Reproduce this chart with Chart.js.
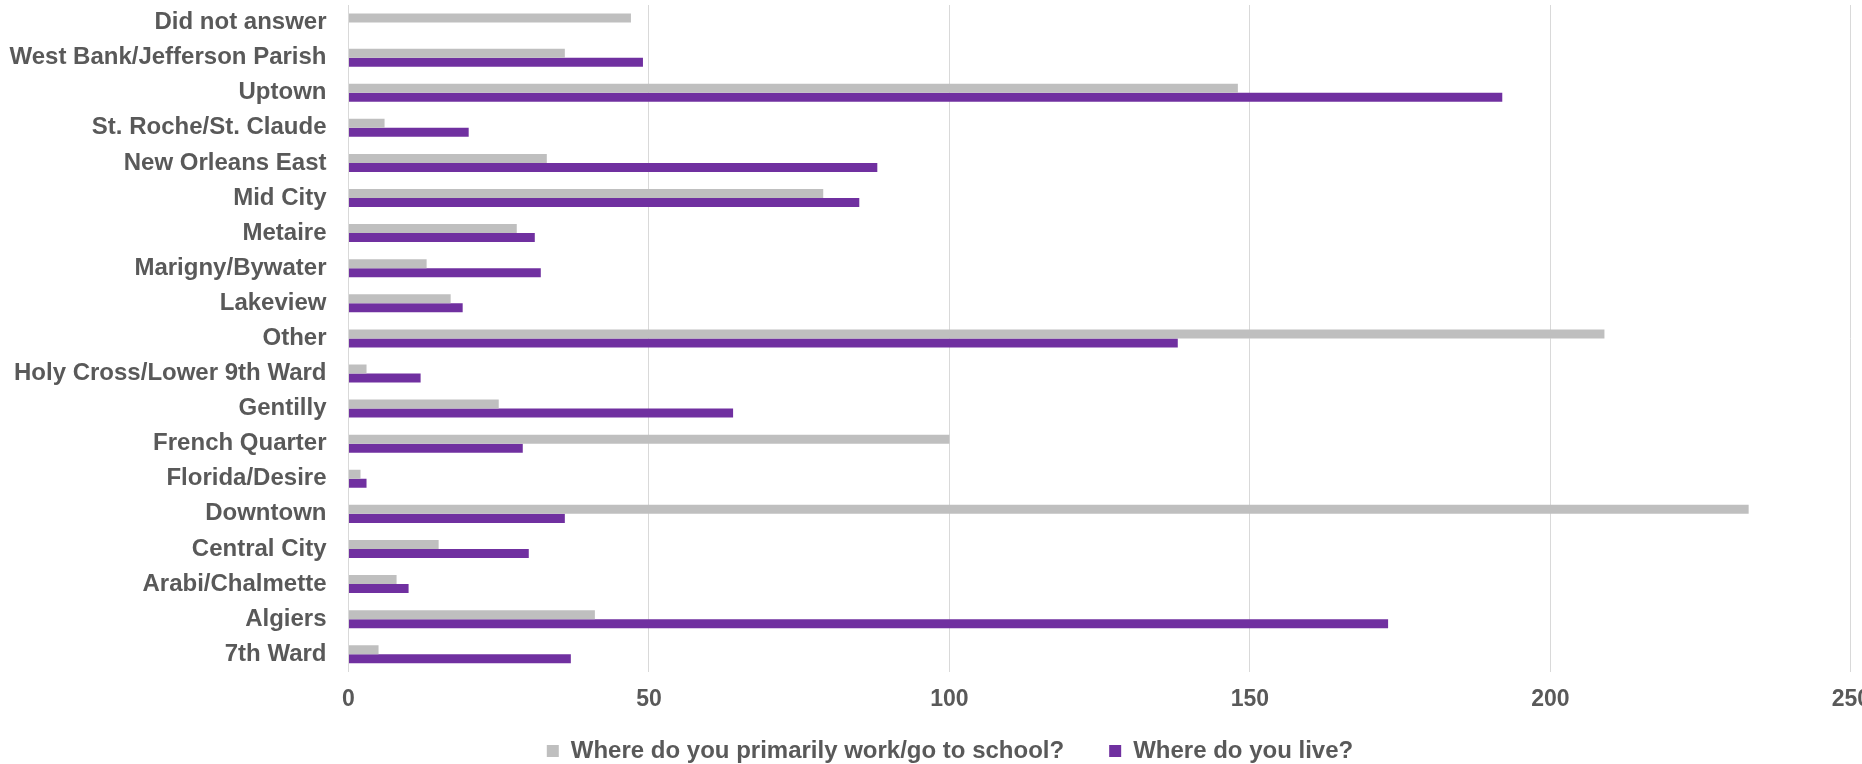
<!DOCTYPE html>
<html>
<head>
<meta charset="utf-8">
<script src="https://cdn.jsdelivr.net/npm/chart.js@4/dist/chart.umd.min.js"></script>
<style>
  html, body { margin: 0; padding: 0; background: #ffffff; overflow: hidden; }
  #wrap { width: 1862px; height: 764px; overflow: hidden; position: relative; }
  canvas { display: block; }
</style>
</head>
<body>
<div id="wrap"><canvas id="c" width="1870" height="806" style="width:1870px;height:806px"></canvas></div>
<script>
const categories = [
  'Did not answer', 'West Bank/Jefferson Parish', 'Uptown', 'St. Roche/St. Claude',
  'New Orleans East', 'Mid City', 'Metaire', 'Marigny/Bywater', 'Lakeview', 'Other',
  'Holy Cross/Lower 9th Ward', 'Gentilly', 'French Quarter', 'Florida/Desire',
  'Downtown', 'Central City', 'Arabi/Chalmette', 'Algiers', '7th Ward'
];
const workSchool = [47, 36, 148, 6, 33, 79, 28, 13, 17, 209, 3, 25, 100, 2, 233, 15, 8, 41, 5];
const liveWhere  = [null, 49, 192, 20, 88, 85, 31, 32, 19, 138, 12, 64, 29, 3, 36, 30, 10, 173, 37];
const seriesLabels = ['Where do you primarily work/go to school?', 'Where do you live?'];
const xTicks = [0, 50, 100, 150, 200, 250];

const textColor = '#595959';
const gridColor = '#D9D9D9';
const fontFamily = '"Liberation Sans", Arial, Helvetica, sans-serif';

// move the bottom legend up so that it sits just under the tick labels
const legendShift = {
  id: 'legendShift',
  afterLayout(chart) {
    const lg = chart.legend;
    if (lg) { lg.top -= 33; lg.bottom -= 33; }
  }
};

new Chart(document.getElementById('c'), {
  type: 'bar',
  data: {
    labels: categories,
    datasets: [
      { label: seriesLabels[0], data: workSchool, backgroundColor: '#BFBFBF', borderWidth: 0 },
      { label: seriesLabels[1], data: liveWhere, backgroundColor: '#7030A0', borderWidth: 0 }
    ]
  },
  plugins: [legendShift],
  options: {
    indexAxis: 'y',
    responsive: false,
    animation: false,
    devicePixelRatio: 1,
    layout: { padding: { left: 0, top: 5, right: -30, bottom: 0 } },
    datasets: { bar: { categoryPercentage: 0.513, barPercentage: 1.0 } },
    scales: {
      x: {
        min: xTicks[0],
        max: xTicks[xTicks.length - 1],
        afterBuildTicks: (s) => { s.ticks = xTicks.map(v => ({ value: v })); },
        grid: { color: gridColor, lineWidth: 1, drawTicks: false },
        border: { display: false },
        ticks: {
          color: textColor,
          padding: 0,
          font: { family: fontFamily, size: 23, weight: 'bold', lineHeight: 2.4 },
          maxRotation: 0,
          autoSkip: false
        }
      },
      y: {
        afterFit: (s) => { s.width = 348.5; },
        grid: { display: true, drawOnChartArea: false, drawTicks: true, tickLength: 22, color: 'rgba(0,0,0,0)' },
        border: { display: true, color: gridColor, width: 1 },
        ticks: {
          color: textColor,
          padding: 0,
          autoSkip: false,
          font: { family: fontFamily, size: 24, weight: 'bold', lineHeight: 0.3 }
        }
      }
    },
    plugins: {
      legend: {
        position: 'bottom',
        labels: {
          color: textColor,
          boxWidth: 12,
          boxHeight: 12,
          padding: 45,
          font: { family: fontFamily, size: 24, weight: 'bold' }
        }
      },
      tooltip: { enabled: false }
    }
  }
});
</script>
</body>
</html>
